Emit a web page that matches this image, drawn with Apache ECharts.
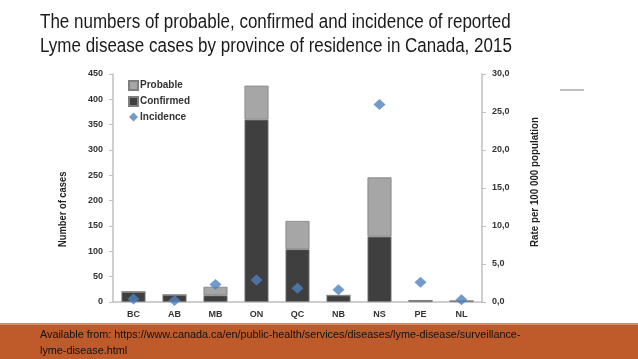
<!DOCTYPE html>
<html>
<head>
<meta charset="utf-8">
<script src="https://cdn.jsdelivr.net/npm/echarts@6/dist/echarts.min.js"></script>
<style>html,body{margin:0;padding:0;background:#fff;}#c{width:638px;height:359px;}</style>
</head>
<body>
<div id="c"></div>
<script>
var provinces = ['BC','AB','MB','ON','QC','NB','NS','PE','NL'];
var confirmed = [20, 14, 13, 360, 104, 13, 129, 3, 2];
var probable  = [0, 0, 17, 67, 56, 0, 117, 0, 0];
var incidence = [0.4, 0.2, 2.3, 2.9, 1.8, 1.6, 26.0, 2.6, 0.3];
var leftTicks = [0, 450, 50];
var rightTicks = [0, 30, 5];

var sans = '"Liberation Sans", Arial, sans-serif';
var chart = echarts.init(document.getElementById('c'));
chart.setOption({
  animation: false,
  backgroundColor: '#fff',
  legend: {
    orient: 'vertical', left: 123, top: 75, itemGap: 5,
    itemWidth: 9, itemHeight: 9,
    textStyle: {fontFamily: sans, fontSize: 10, fontWeight: 'bold', color: '#333', padding: [0,0,0,-3]},
    data: [
      {name: 'Probable', icon: 'rect'},
      {name: 'Confirmed', icon: 'rect'},
      {name: 'Incidence', icon: 'diamond'}
    ]
  },
  grid: {left: 113, right: 156, top: 74, bottom: 57},
  xAxis: {
    type: 'category', data: provinces,
    axisLine: {lineStyle: {color: '#bfbfbf', width: 1.5}},
    axisTick: {show: false},
    axisLabel: {fontFamily: sans, fontSize: 9, fontWeight: 'bold', color: '#333', margin: 8}
  },
  yAxis: [
    {
      type: 'value', min: leftTicks[0], max: leftTicks[1], interval: leftTicks[2],
      axisLine: {show: true, lineStyle: {color: '#bfbfbf', width: 1.5}},
      axisTick: {show: true, inside: false, length: 4, lineStyle: {color: '#bfbfbf'}},
      splitLine: {show: false},
      axisLabel: {fontFamily: sans, fontSize: 9, fontWeight: 'bold', color: '#333', margin: 10}
    },
    {
      type: 'value', min: rightTicks[0], max: rightTicks[1], interval: rightTicks[2], position: 'right',
      axisLine: {show: true, lineStyle: {color: '#bfbfbf', width: 1.5}},
      axisTick: {show: true, length: 4, lineStyle: {color: '#bfbfbf'}},
      splitLine: {show: false},
      axisLabel: {fontFamily: sans, fontSize: 9, fontWeight: 'bold', color: '#333', margin: 10,
        formatter: function(v){ return v.toFixed(1).replace('.', ','); }}
    }
  ],
  series: [
    {
      name: 'Confirmed', type: 'bar', stack: 'cases', data: confirmed, barWidth: 24,
      itemStyle: {color: '#3f3f3f', borderColor: '#7f7f7f', borderWidth: 0.8}
    },
    {
      name: 'Probable', type: 'bar', stack: 'cases', data: probable, barWidth: 24,
      itemStyle: {color: '#a6a6a6', borderColor: '#7f7f7f', borderWidth: 0.8}
    },
    {
      name: 'Incidence', type: 'scatter', yAxisIndex: 1, data: incidence,
      symbol: 'diamond', symbolSize: [12, 11], z: 5,
      itemStyle: {color: '#4f81bd'}
    }
  ],
  graphic: [
    {type: 'text', x: 40, y: 10, scaleX: 0.85,
      style: {text: 'The numbers of probable, confirmed and incidence of reported\nLyme disease cases by province of residence in Canada, 2015',
        fontFamily: sans, fontSize: 20, lineHeight: 24, fill: '#1a1a1a'}},
    {type: 'text', x: 57, y: 247, rotation: Math.PI / 2, scaleX: 0.85,
      style: {text: 'Number of cases', fontFamily: sans, fontSize: 11, fontWeight: 'bold', fill: '#222'}},
    {type: 'text', x: 529, y: 247, rotation: Math.PI / 2, scaleX: 0.89,
      style: {text: 'Rate per 100 000 population', fontFamily: sans, fontSize: 11, fontWeight: 'bold', fill: '#222'}},
    {type: 'line', shape: {x1: 560, y1: 90, x2: 584, y2: 90}, style: {stroke: '#7f7f7f', lineWidth: 1}},
    {type: 'rect', shape: {x: 0, y: 324, width: 638, height: 35}, style: {fill: '#bf5a2b'}},
    {type: 'rect', shape: {x: 0, y: 323, width: 638, height: 2}, style: {fill: '#e08a55'}},
    {type: 'text', x: 40, y: 327, scaleX: 0.94,
      style: {text: 'Available from: https://www.canada.ca/en/public-health/services/diseases/lyme-disease/surveillance-\nlyme-disease.html',
        fontFamily: sans, fontSize: 11.5, lineHeight: 16, fill: '#111'}}
  ]
});
</script>
</body>
</html>
